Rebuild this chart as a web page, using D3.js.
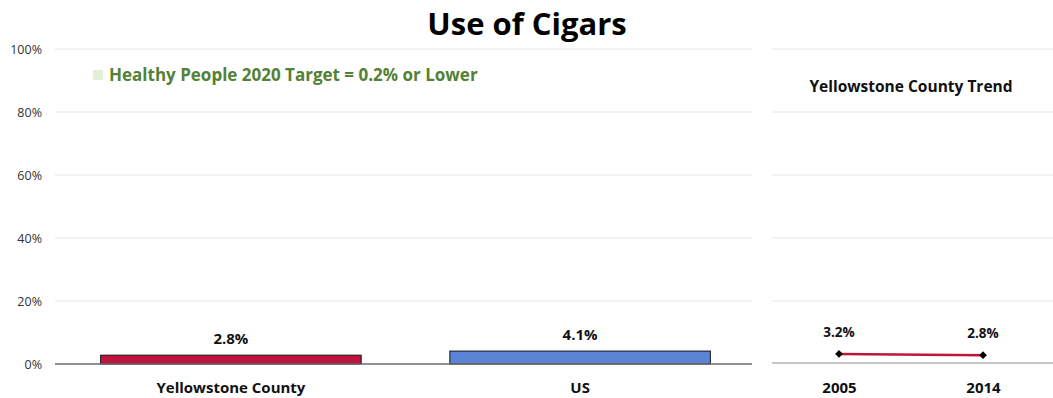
<!DOCTYPE html>
<html><head><meta charset="utf-8">
<script src="https://cdn.jsdelivr.net/npm/d3@7"></script>
<style>
html,body{margin:0;padding:0;background:#fff;}
text{font-family:"Open Sans","Noto Sans",sans-serif;}
</style></head>
<body><svg id="c" width="1053" height="398"></svg>
<script>
const categories = ["Yellowstone County", "US"];
const values = [2.8, 4.1];
const barColors = ["#c0143c", "#5b84d6"];
const trendYears = ["2005", "2014"];
const trendValues = [3.2, 2.8];
const yTicks = [0, 20, 40, 60, 80, 100];
const title = "Use of Cigars";
const legendText = "Healthy People 2020 Target = 0.2% or Lower";
const trendTitle = "Yellowstone County Trend";

const svg = d3.select("#c");
const y = d3.scaleLinear().domain([0, 100]).range([364, 49]);

svg.append("text").attr("x", 527).attr("y", 35).attr("text-anchor", "middle")
  .attr("font-size", 31).attr("font-weight", 700).attr("fill", "#000").text(title);

// left panel
const xL = d3.scaleBand().domain(categories).range([57, 754]).paddingInner(0.254).paddingOuter(0.125);
const gL = svg.append("g");
gL.selectAll("line.grid").data(yTicks.filter(d => d > 0)).join("line")
  .attr("x1", 55).attr("x2", 752).attr("y1", d => y(d)).attr("y2", d => y(d))
  .attr("stroke", "#e6e6e6").attr("stroke-width", 1);
const yAxis = d3.axisLeft(y).tickValues(yTicks).tickFormat(d => d + "%").tickSize(0).tickPadding(0);
const ya = svg.append("g").attr("transform", "translate(42,0)").call(yAxis);
ya.select(".domain").remove();
ya.selectAll("text").attr("font-size", 12.5).attr("fill", "#333");

gL.selectAll("rect").data(values).join("rect")
  .attr("x", (d, i) => xL(categories[i])).attr("width", xL.bandwidth())
  .attr("y", d => y(d)).attr("height", d => y(0) - y(d))
  .attr("fill", (d, i) => barColors[i]).attr("stroke", "#111").attr("stroke-width", 1);
gL.append("line").attr("x1", 55).attr("x2", 752).attr("y1", y(0)).attr("y2", y(0))
  .attr("stroke", "#6b6b6b").attr("stroke-width", 1.5);
gL.selectAll("text.val").data(values).join("text").attr("class", "val")
  .attr("x", (d, i) => xL(categories[i]) + xL.bandwidth() / 2).attr("y", d => y(d) - 11)
  .attr("text-anchor", "middle").attr("font-size", 15).attr("font-weight", 700).attr("fill", "#111")
  .text(d => d.toFixed(1) + "%");
const xa = svg.append("g").attr("transform", `translate(0,${y(0)})`)
  .call(d3.axisBottom(xL).tickSize(0).tickPadding(18));
xa.select(".domain").remove();
xa.selectAll("text").attr("font-size", 15).attr("font-weight", 700).attr("fill", "#111");

// legend
svg.append("rect").attr("x", 93).attr("y", 70).attr("width", 10).attr("height", 10).attr("fill", "#e2efd9");
svg.append("text").attr("x", 109).attr("y", 81).attr("font-size", 17).attr("font-weight", 700)
  .attr("fill", "#538135").text(legendText);

// right panel
const xR = d3.scalePoint().domain(trendYears).range([767, 1055]).padding(0.5);
const gR = svg.append("g");
gR.selectAll("line.grid").data(yTicks.filter(d => d > 0)).join("line")
  .attr("x1", 772).attr("x2", 1053).attr("y1", d => y(d)).attr("y2", d => y(d))
  .attr("stroke", "#e6e6e6").attr("stroke-width", 1);
gR.append("line").attr("x1", 772).attr("x2", 1053).attr("y1", y(0) - 1).attr("y2", y(0) - 1)
  .attr("stroke", "#b3b3b3").attr("stroke-width", 1.5);
const line = d3.line().x((d, i) => xR(trendYears[i])).y(d => y(d));
gR.append("path").datum(trendValues).attr("d", line).attr("fill", "none")
  .attr("stroke", "#c0143c").attr("stroke-width", 2.5);
gR.selectAll("path.m").data(trendValues).join("path").attr("class", "m")
  .attr("d", d3.symbol().type(d3.symbolSquare).size(30))
  .attr("transform", (d, i) => `translate(${xR(trendYears[i])},${y(d)}) rotate(45)`).attr("fill", "#000");
gR.selectAll("text.val").data(trendValues).join("text").attr("class", "val")
  .attr("x", (d, i) => xR(trendYears[i])).attr("y", d => y(d) - 17)
  .attr("text-anchor", "middle").attr("font-size", 13.5).attr("font-weight", 700).attr("fill", "#111")
  .text(d => d.toFixed(1) + "%");
const xra = svg.append("g").attr("transform", `translate(0,${y(0)})`)
  .call(d3.axisBottom(xR).tickSize(0).tickPadding(18));
xra.select(".domain").remove();
xra.selectAll("text").attr("font-size", 15).attr("font-weight", 700).attr("fill", "#111");
svg.append("text").attr("x", 911).attr("y", 92).attr("text-anchor", "middle")
  .attr("font-size", 15.5).attr("font-weight", 700).attr("fill", "#111").text(trendTitle);
</script></body></html>
